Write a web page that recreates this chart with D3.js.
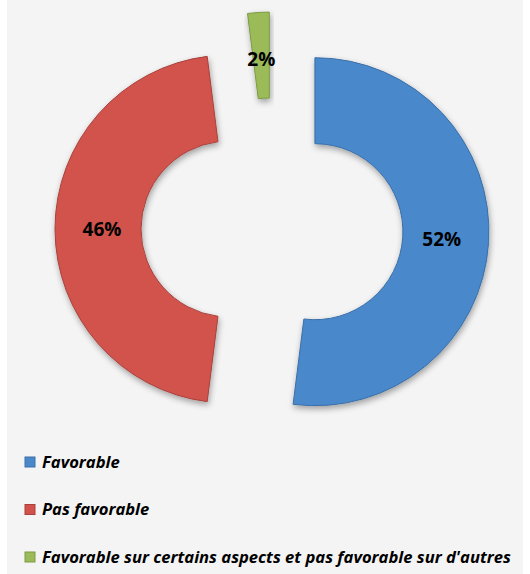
<!DOCTYPE html>
<html>
<head>
<meta charset="utf-8">
<script src="https://cdn.jsdelivr.net/npm/d3@7"></script>
<style>
  body { margin: 0; background: #fff; }
  svg { display: block; }
</style>
</head>
<body>
<svg width="530" height="574"></svg>
<script>
// data
const categories = ["Favorable", "Pas favorable", "Favorable sur certains aspects et pas favorable sur d'autres"];
const values = [52, 46, 2];
const labels = ["52%", "46%", "2%"];
const colors = ["#4a88ca", "#d2524b", "#9bbb59"];
const darker = ["#3a6fa8", "#a8413b", "#7c9a44"];

const width = 530,
  height = 574;
const cx = 272,
  cy = 229,
  outerR = 174,
  innerR = 88,
  explode = 43;

const svg = d3.select("svg");

// grey chart area
svg.append("rect")
  .attr("x", 7).attr("y", 0)
  .attr("width", 516).attr("height", height)
  .attr("fill", "#f4f4f4");

const defs = svg.append("defs");
const filter = defs.append("filter").attr("id", "shadow")
  .attr("x", "-20%").attr("y", "-20%").attr("width", "140%").attr("height", "140%");
filter.append("feGaussianBlur").attr("in", "SourceAlpha").attr("stdDeviation", 3);
filter.append("feOffset").attr("dx", 1).attr("dy", 3).attr("result", "b");
filter.append("feComponentTransfer").append("feFuncA").attr("type", "linear").attr("slope", 0.35);
const merge = filter.append("feMerge");
merge.append("feMergeNode");
merge.append("feMergeNode").attr("in", "SourceGraphic");

const pie = d3.pie().sort(null).value(d => d);
const arcs = pie(values);

const arc = d3.arc().innerRadius(innerR).outerRadius(outerR);
const labelArc = d3.arc().innerRadius(outerR * 0.73).outerRadius(outerR * 0.73);

const g = svg.append("g").attr("transform", `translate(${cx},${cy})`);

// exploded slices
const slices = g.selectAll("g.slice")
  .data(arcs)
  .enter()
  .append("g")
  .attr("class", "slice")
  .attr("transform", d => {
    const a = (d.startAngle + d.endAngle) / 2;
    return `translate(${explode * Math.sin(a)},${-explode * Math.cos(a)})`;
  });

slices.append("path")
  .attr("d", arc)
  .attr("fill", (d, i) => colors[i])
  .attr("stroke", (d, i) => darker[i])
  .attr("stroke-width", 1)
  .attr("filter", "url(#shadow)");

// percent labels
slices.append("text")
  .attr("transform", d => `translate(${labelArc.centroid(d)})`)
  .attr("text-anchor", "middle")
  .attr("dy", "0.35em")
  .attr("font-family", "'Open Sans', sans-serif")
  .attr("font-weight", "bold")
  .attr("font-size", 19)
  .attr("fill", "#000")
  .text((d, i) => labels[i]);

// legend
const legend = svg.append("g")
  .selectAll("g")
  .data(categories)
  .enter()
  .append("g")
  .attr("transform", (d, i) => `translate(25,${462 + i * 47.5})`);

legend.append("rect")
  .attr("x", 0).attr("y", -5)
  .attr("width", 10).attr("height", 10)
  .attr("fill", (d, i) => colors[i])
  .attr("stroke", (d, i) => darker[i]);

legend.append("text")
  .attr("x", 17)
  .attr("dy", "0.35em")
  .attr("font-family", "'Open Sans', sans-serif")
  .attr("font-weight", "bold")
  .attr("font-style", "italic")
  .attr("font-size", 16.6)
  .attr("fill", "#000")
  .text(d => d);
</script>
</body>
</html>
